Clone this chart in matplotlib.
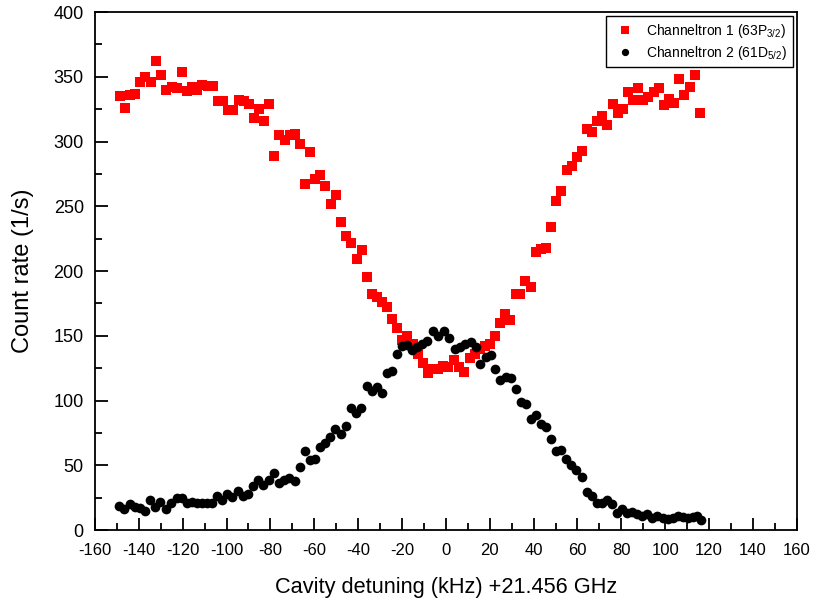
import matplotlib

matplotlib.use("Agg")
import matplotlib.pyplot as plt
from matplotlib.ticker import MultipleLocator

# Channeltron 1 (63P3/2), red squares
red_x = [-148.6, -146.3, -144.0, -141.6, -139.3, -137.0, -134.6, -132.2, -130.0, -127.5,
         -125.0, -122.6, -120.2, -117.9, -115.6, -113.3, -111.0, -108.6, -106.2, -103.8,
         -101.5, -99.2, -96.9, -94.4, -92.0, -89.7, -87.6, -85.2, -83.0, -80.7,
         -78.2, -75.9, -73.5, -71.2, -68.8, -66.5, -64.3, -62.0, -59.7, -57.4,
         -55.0, -52.6, -50.3, -47.9, -45.5, -43.1, -40.7, -38.4, -36.1, -33.8,
         -31.4, -29.0, -26.8, -24.5, -22.2, -19.9, -17.6, -15.0, -12.6, -10.3,
         -8.0, -5.8, -3.5, -1.2, 1.0, 3.5, 5.8, 8.2, 10.8, 13.2,
         15.5, 17.8, 20.1, 22.3, 24.6, 26.9, 29.2, 31.8, 34.0, 36.3,
         38.6, 41.0, 43.3, 45.6, 47.9, 50.4, 52.7, 55.2, 57.6, 59.8,
         62.1, 64.4, 66.8, 69.1, 71.4, 73.7, 76.2, 78.5, 80.8, 83.1,
         85.4, 87.7, 90.0, 92.4, 94.8, 97.1, 99.4, 101.7, 104.0, 106.3,
         108.8, 111.2, 113.7, 115.8]
red_y = [335, 326, 336, 337, 346, 350, 346, 362, 351, 340,
         342, 341, 354, 339, 342, 340, 344, 343, 343, 331,
         331, 324, 324, 332, 331, 329, 318, 325, 316, 329,
         289, 305, 301, 305, 306, 298, 267, 292, 271, 274,
         266, 252, 259, 238, 227, 222, 209, 216, 195, 182,
         180, 176, 172, 163, 156, 147, 150, 144, 136, 129,
         121, 124, 124, 127, 126, 131, 126, 122, 133, 136,
         140, 142, 144, 150, 160, 167, 162, 182, 182, 192,
         188, 215, 217, 218, 234, 254, 262, 278, 281, 288,
         293, 310, 307, 316, 320, 313, 329, 322, 325, 338,
         332, 341, 332, 334, 338, 341, 328, 333, 330, 348,
         336, 342, 351, 322]

# Channeltron 2 (61D5/2), black circles
black_x = [-148.9, -146.6, -144.0, -141.7, -139.5, -137.2, -134.9, -132.6, -130.4, -127.8,
           -125.2, -122.8, -120.5, -118.2, -115.9, -113.6, -111.4, -109.1, -106.8, -104.4,
           -102.0, -99.7, -97.3, -94.9, -92.5, -90.1, -87.8, -85.5, -83.2, -80.8,
           -78.4, -76.1, -73.8, -71.5, -69.0, -66.6, -64.3, -62.0, -59.7, -57.4,
           -55.1, -52.9, -50.4, -48.0, -45.7, -43.2, -40.8, -38.5, -36.0, -33.6,
           -31.3, -29.0, -26.9, -24.5, -22.2, -19.9, -17.6, -15.4, -13.1, -10.8,
           -8.5, -5.9, -3.5, -1.0, 1.4, 4.0, 6.4, 8.9, 11.3, 13.6,
           15.7, 18.1, 20.4, 22.5, 24.9, 27.2, 29.5, 31.8, 34.1, 36.4,
           38.6, 41.0, 43.4, 45.7, 48.0, 50.2, 52.5, 55.0, 57.1, 59.4,
           61.9, 64.2, 66.5, 68.8, 71.1, 73.5, 75.8, 78.1, 80.4, 82.7,
           85.0, 87.3, 89.6, 91.9, 94.2, 96.5, 98.8, 101.1, 103.4, 105.7,
           108.0, 110.3, 112.5, 114.3, 116.2]
black_y = [18.6, 16, 20, 18, 17, 15, 23, 18, 22, 16,
           21, 24.5, 24.5, 21, 22, 20.5, 20.5, 21, 20.5, 26,
           23, 27.5, 25.5, 30.5, 26.5, 28, 34, 38.5, 34.5, 38.5,
           44, 36, 38.5, 40.5, 37.5, 48.5, 61, 54, 55, 64,
           67, 71.5, 78, 74, 80.5, 94.5, 90, 94, 111.5, 107.5,
           110.5, 106, 121.5, 123, 136, 142, 142.5, 139, 141, 144,
           146, 153.5, 150, 153.5, 148.5, 140, 141.5, 143.5, 145.5, 141.5,
           128, 133.5, 135.5, 124.5, 116, 118.5, 117.5, 109, 98.5, 97,
           86, 89, 82, 79.5, 70, 61, 61.5, 54.7, 50.3, 46,
           41, 29.5, 26.5, 21, 21, 23, 20, 13.5, 16, 13.5,
           14, 12, 11, 12, 9.5, 10.5, 9.5, 8.5, 9.5, 11,
           10, 9.5, 10, 11, 7.5]

plt.rcParams.update({
    "font.family": ["Liberation Sans", "DejaVu Sans"],
    "mathtext.fontset": "custom",
    "mathtext.rm": "Liberation Sans",
    "mathtext.it": "Liberation Sans",
    "axes.unicode_minus": False,
})

fig = plt.figure(figsize=(8.16, 6.10), dpi=100)
ax = fig.add_axes([0.1164, 0.1311, 0.8600, 0.8492])

ax.plot(red_x, red_y, linestyle="none", marker="s", markersize=7.2, color="#ff0000",
        markeredgewidth=0, label="Channeltron 1 (63P$_{3/2}$)")
ax.plot(black_x, black_y, linestyle="none", marker="o", markersize=7.0, color="black",
        markeredgewidth=0, label="Channeltron 2 (61D$_{5/2}$)")

ax.set_xlim(-160, 160)
ax.set_ylim(0, 400)
ax.xaxis.set_major_locator(MultipleLocator(20))
ax.xaxis.set_minor_locator(MultipleLocator(10))
ax.yaxis.set_major_locator(MultipleLocator(50))
ax.yaxis.set_minor_locator(MultipleLocator(25))
ax.tick_params(which="both", direction="in", top=False, right=False, width=1.3)
ax.tick_params(which="major", length=9)
ax.tick_params(which="minor", length=5)
ax.tick_params(axis="x", labelsize=12, pad=9)
ax.tick_params(axis="y", labelsize=13, pad=8)
for sp in ax.spines.values():
    sp.set_linewidth(1.3)

ax.set_xlabel("Cavity detuning (kHz) +21.456 GHz", fontsize=15.7, labelpad=14)
ax.set_ylabel("Count rate (1/s)", fontsize=17, labelpad=14)

leg = ax.legend(loc="upper right", fontsize=10, frameon=True, fancybox=False,
                edgecolor="black", framealpha=1, borderaxespad=0.3,
                handlelength=2.0, handletextpad=0.5, borderpad=0.4,
                labelspacing=0.3, markerscale=0.75)
leg.get_frame().set_linewidth(1.0)

fig.savefig("out.png", dpi=100)
